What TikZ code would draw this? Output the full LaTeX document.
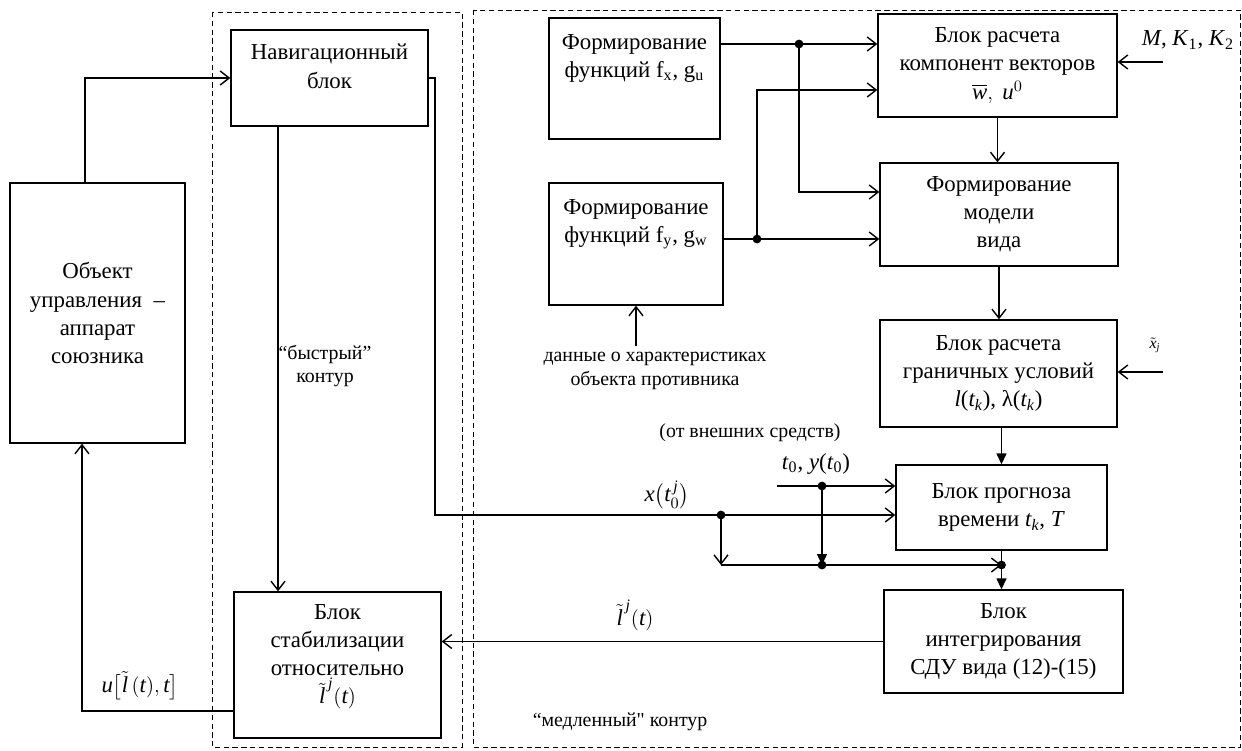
\documentclass[tikz,border=0pt]{standalone}
\usepackage{amsmath}
\usepackage{fontspec}
\setmainfont{Liberation Serif}
\usetikzlibrary{arrows.meta,positioning}
\newcommand{\itv}[1]{\text{\itshape #1}}

\begin{document}
\begin{tikzpicture}[x=0.02cm, y=-0.02cm,
    blk/.style={draw, thick, align=center, font=\fontsize{13}{16}\selectfont},
    blktxt/.style={align=center, font=\fontsize{13}{16}\selectfont},
    lbl/.style={align=center, font=\fontsize{11.3}{13.5}\selectfont},
    arr/.style={thick, -{Straight Barb[length=1.8mm,width=2.8mm]}},
    farr/.style={thick, -{Triangle[length=2.2mm,width=2mm]}},
    jdot/.style={circle, fill, inner sep=0pt, minimum size=5pt},
    zone/.style={thin, dash pattern=on 3pt off 2pt}]
  \useasboundingbox (0,0) rectangle (1242,751);

  % contours
  \draw[zone] (212,12) rectangle (462,747);
  \draw[zone] (473,10) rectangle (1240,747);

  % blocks
  \node[blk, minimum width=3.5cm, minimum height=5.2cm] (obj) at (97.5,313) {Объект\\управления~~–\\аппарат\\союзника};
  \node[blk, minimum width=3.94cm, minimum height=1.92cm] (nav) at (329.5,78) {};
  \node[blktxt, below=5pt of nav.north] (navtext) {Навигационный\\блок};
  \node[blk, minimum width=4.14cm, minimum height=2.92cm] (stab) at (337.5,665) {};
  \node[blktxt, below=4pt of stab.north] (stabtext) {Блок\\стабилизации\\относительно\\$\tilde{\itv{l}}^{\,\itv{j}}(\itv{t})$};

  \node[blk, minimum width=3.42cm, minimum height=2.42cm] (fx) at (634.5,78.5) {};
  \node[blktxt, below=6pt of fx.north] (fxtext) {Формирование\\функций f\textsubscript{x}, g\textsubscript{u}};
  \node[blk, minimum width=3.48cm, minimum height=2.44cm] (fy) at (636,244) {};
  \node[blktxt, below=6pt of fy.north] (fytext) {Формирование\\функций f\textsubscript{y}, g\textsubscript{w}};

  \node[blk, minimum width=4.78cm, minimum height=2.06cm] (vec) at (997.5,65.5) {Блок расчета\\компонент векторов\\$\overline{\itv{w}},\ \itv{u}^{0}$};
  \node[blk, minimum width=4.76cm, minimum height=2.06cm] (model) at (999,214.5) {Формирование\\модели\\вида};
  \node[blk, minimum width=4.74cm, minimum height=2.14cm] (bound) at (998.5,373.5) {Блок расчета\\граничных условий\\\textit{l}(\textit{t\textsubscript{k}}), λ(\textit{t\textsubscript{k}})};
  \node[blk, minimum width=4.22cm, minimum height=1.7cm] (prog) at (1001.5,507.5) {Блок прогноза\\времени \textit{t\textsubscript{k}}, \textit{T}};
  \node[blk, minimum width=4.78cm, minimum height=2.06cm] (integ) at (1003.5,641.5) {Блок\\интегрирования\\СДУ вида (12)-(15)};

  % labels
  \node[lbl] (fast) at (325,366) {“быстрый”\\контур};
  \node[lbl] (data) at (655,371) {данные о характеристиках\\объекта противника};
  \node[lbl] (ext) at (750,433) {(от внешних средств)};
  \node[lbl] (slow) at (620,722) {“медленный\textquotedbl{} контур};
  \node[blktxt] (mk) at (1188,40) {\textit{M}, \textit{K}\textsubscript{1}, \textit{K}\textsubscript{2}};
  \node[lbl, font=\small] (xj) at (1155,345) {$\tilde{\itv{x}}_{\itv{j}}$};
  \node[blktxt] (t0) at (816,464) {\textit{t}\textsubscript{0}, \textit{y}(\textit{t}\textsubscript{0})};
  \node[blktxt] (xt0) at (667,495) {$\itv{x}\bigl(\itv{t}^{\,\itv{j}}_{0}\bigr)$};
  \node[blktxt] (lj) at (635,615) {$\tilde{\itv{l}}^{\,\itv{j}}(\itv{t})$};
  \node[blktxt] (ul) at (140,686) {$\itv{u}\bigl[\tilde{\itv{l}}\,(\itv{t}),\itv{t}\bigr]$};

  % junctions
  \coordinate (j1) at (799,44);
  \coordinate (j4) at (799,192);
  \coordinate (j2) at (757,239);
  \coordinate (j3) at (757,90);
  \coordinate (mkin) at (1163,62);
  \coordinate (xjin) at (1163,372);
  \coordinate (t0in) at (777,486);
  \coordinate (j5) at (822,486);
  \coordinate (j6) at (822,565);
  \coordinate (navout) at (435,515);
  \coordinate (j7) at (721,515);
  \coordinate (j8) at (721,565);
  \coordinate (j9) at (prog.south |- j8);
  \coordinate (objout) at ([xshift=-0.25cm]obj.north);
  \coordinate (fastout) at ([xshift=-1.03cm]nav.south);
  \coordinate (stabout) at ([yshift=-0.92cm]stab.west);
  \coordinate (objin) at ([xshift=-0.31cm]obj.south);

  % fast contour
  \draw[arr] (objout) |- (nav.west);
  \draw[arr] (fastout) -- (fastout |- stab.north);
  \draw[arr] (stabout) -| (objin);

  % slow contour
  \draw[arr] (fx.east |- j1) -- (vec.west |- j1);
  \draw[arr] (j1) -- (j4) -- (model.west |- j4);
  \draw[arr] (fy.east |- j2) -- (model.west |- j2);
  \draw[arr] (j2) -- (j3) -- (vec.west |- j3);
  \draw[arr] (vec.south) -- (vec.south |- model.north);
  \draw[arr] (model.south) -- (model.south |- bound.north);
  \draw[farr] (prog.north |- bound.south) -- (prog.north);
  \draw[farr] (prog.south) -- (prog.south |- integ.north);
  \draw[arr] (mkin) -- (vec.east |- mkin);
  \draw[arr] (xjin) -- (bound.east |- xjin);
  \draw[arr] (fy.south |- data.north) -- (fy.south);

  \draw[arr] (t0in) -- (prog.west |- t0in);
  \draw[farr] (j5) -- (j6);
  \draw[arr] (nav.east) -| (navout) -- (prog.west |- navout);
  \draw[arr] (j7) -- (j8);
  \draw[arr] (j8) -- (j9);
  \draw[arr] (integ.west) -- (stab.east |- integ.west);

  \node[jdot] (d1) at (j1) {};
  \node[jdot] (d2) at (j2) {};
  \node[jdot] (d5) at (j5) {};
  \node[jdot] (d6) at (j6) {};
  \node[jdot] (d7) at (j7) {};
  \node[jdot] (d9) at (j9) {};
\end{tikzpicture}
\end{document}
